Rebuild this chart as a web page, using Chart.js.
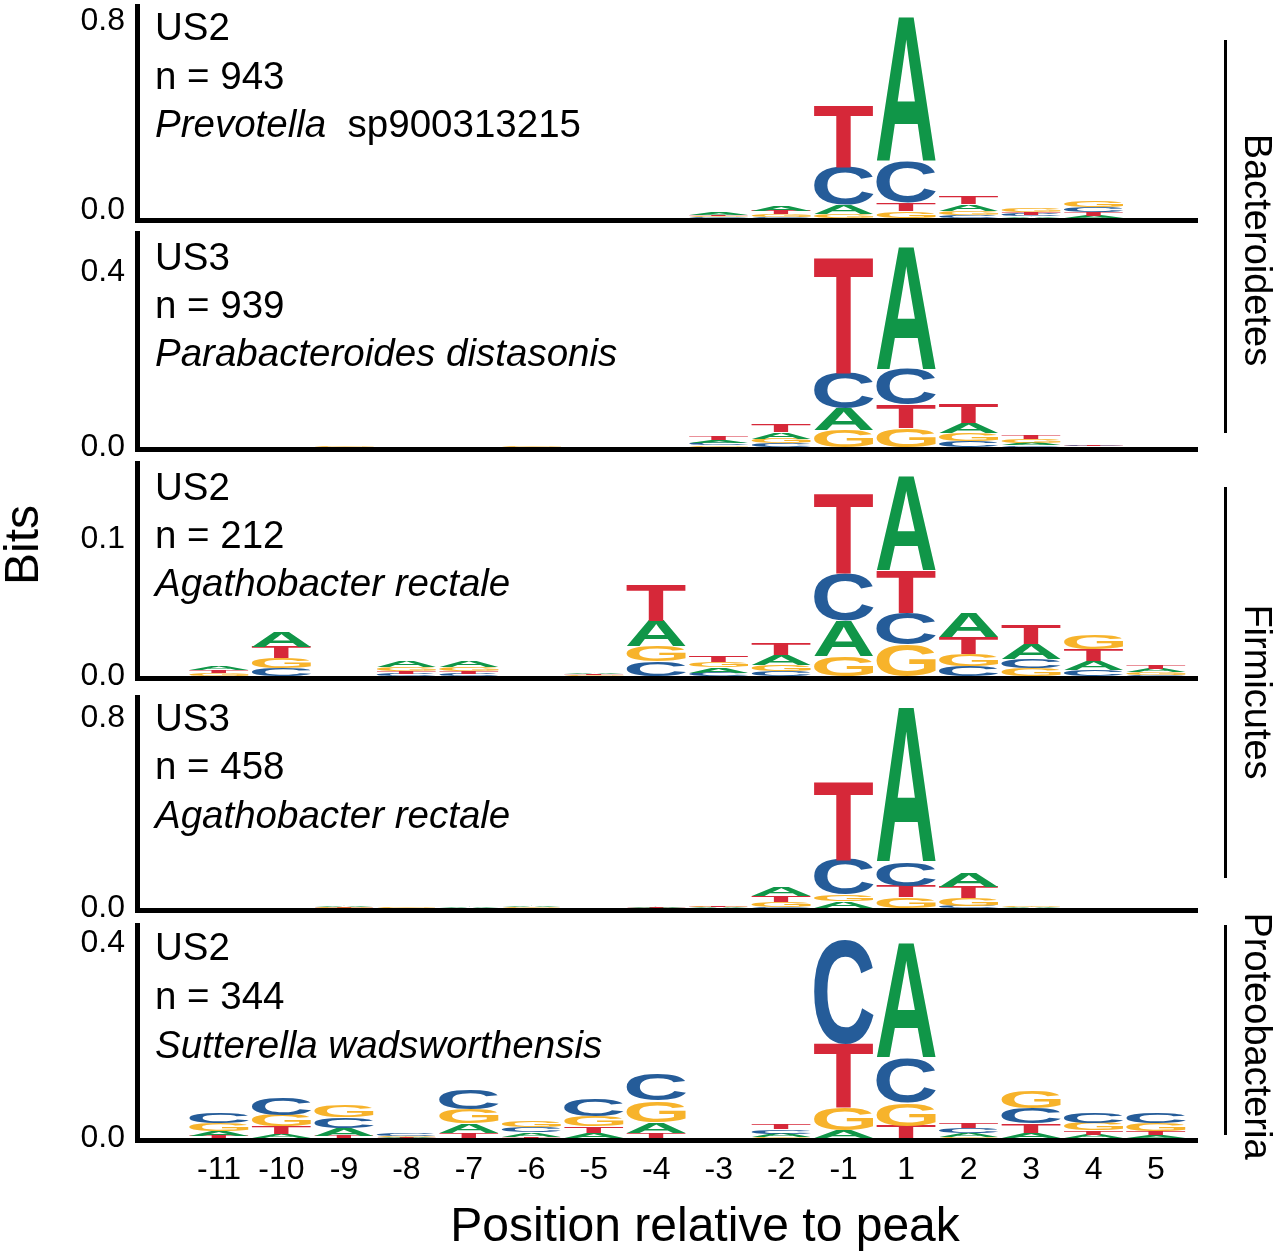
<!DOCTYPE html>
<html>
<head>
<meta charset="utf-8">
<title>Sequence logos around peaks</title>
<script src="https://cdn.jsdelivr.net/npm/chart.js@4.4.0/dist/chart.umd.min.js"></script>
<style>
  body { margin: 0; background: #fff; }
  #page { position: relative; width: 1280px; height: 1257px; overflow: hidden;
          font-family: "Liberation Sans", Arial, sans-serif; color: #000; }
  canvas { position: absolute; left: 0; }
  .note { position: absolute; left: 155px; font-size: 38.5px; line-height: 38.5px; white-space: pre; }
  .rot { position: absolute; white-space: nowrap; line-height: 1; }
  .bar { position: absolute; left: 1224px; width: 3px; background: #000; }
</style>
</head>
<body>
<div id="page">
  <canvas id="p1" width="1280" height="244"></canvas>
  <canvas id="p2" width="1280" height="248"></canvas>
  <canvas id="p3" width="1280" height="247"></canvas>
  <canvas id="p4" width="1280" height="249"></canvas>
  <canvas id="p5" width="1280" height="342"></canvas>

  <div class="note" style="top:8px">US2</div>
  <div class="note" style="top:57px">n = 943</div>
  <div class="note" style="top:105px"><i>Prevotella</i>  sp900313215</div>

  <div class="note" style="top:238px">US3</div>
  <div class="note" style="top:286px">n = 939</div>
  <div class="note" style="top:334px"><i>Parabacteroides distasonis</i></div>

  <div class="note" style="top:468px">US2</div>
  <div class="note" style="top:516px">n = 212</div>
  <div class="note" style="top:564px"><i>Agathobacter rectale</i></div>

  <div class="note" style="top:699px">US3</div>
  <div class="note" style="top:747px">n = 458</div>
  <div class="note" style="top:796px"><i>Agathobacter rectale</i></div>

  <div class="note" style="top:928px">US2</div>
  <div class="note" style="top:977px">n = 344</div>
  <div class="note" style="top:1026px"><i>Sutterella wadsworthensis</i></div>

  <div class="bar" style="top:40px;height:393px"></div>
  <div class="bar" style="top:487px;height:391px"></div>
  <div class="bar" style="top:925px;height:210px"></div>
  <div class="rot" style="left:1258px;top:250px;font-size:38px;transform:translate(-50%,-50%) rotate(90deg)">Bacteroidetes</div>
  <div class="rot" style="left:1258px;top:692px;font-size:38px;transform:translate(-50%,-50%) rotate(90deg)">Firmicutes</div>
  <div class="rot" style="left:1258px;top:1036px;font-size:38px;transform:translate(-50%,-50%) rotate(90deg)">Proteobacteria</div>

  <div class="rot" style="left:22px;top:545px;font-size:48px;transform:translate(-50%,-50%) rotate(-90deg)">Bits</div>
  <div class="rot" style="left:705px;top:1225px;font-size:48px;transform:translate(-50%,-50%)">Position relative to peak</div>
</div>

<script>
// positions relative to the peak, and the four bases
const positions = ['-11', '-10', '-9', '-8', '-7', '-6', '-5', '-4', '-3', '-2', '-1', '1', '2', '3', '4', '5'];
const bases = ['A', 'C', 'G', 'T'];
const baseColors = { A: '#109648', C: '#255C99', G: '#F7B32B', T: '#D62839' };

// information (bits) per base and position
// US2 - Prevotella sp900313215
const p1A = [0, 0, 0, 0, 0, 0, 0, 0, 0.012, 0.02, 0.037, 0.585, 0.028, 0.006, 0.01, 0];
const p1C = [0, 0, 0, 0, 0, 0, 0, 0, 0.002, 0.004, 0.155, 0.167, 0.012, 0.008, 0.02, 0];
const p1G = [0, 0, 0, 0, 0, 0, 0, 0, 0.005, 0.012, 0.016, 0.028, 0.016, 0.014, 0.028, 0];
const p1T = [0, 0, 0, 0, 0, 0, 0, 0, 0.007, 0.013, 0.25, 0.033, 0.032, 0.01, 0.014, 0];

// US3 - Parabacteroides distasonis
const p2A = [0, 0, 0, 0, 0, 0.001, 0, 0, 0.006, 0.015, 0.05, 0.281, 0.023, 0.006, 0.001, 0];
const p2C = [0, 0, 0, 0, 0, 0, 0, 0, 0.005, 0.008, 0.08, 0.08, 0.014, 0.004, 0.0012, 0];
const p2G = [0, 0, 0.002, 0, 0, 0.002, 0, 0, 0.004, 0.011, 0.039, 0.043, 0.018, 0.008, 0.0011, 0];
const p2T = [0, 0, 0.001, 0, 0, 0, 0, 0, 0.008, 0.016, 0.265, 0.053, 0.045, 0.009, 0.002, 0];

// US2 - Agathobacter rectale
const p3A = [0.0025, 0.0109, 0, 0.0044, 0.0042, 0, 0.001, 0.019, 0.0038, 0.0077, 0.0255, 0.069, 0.0182, 0.011, 0.0066, 0.0024];
const p3C = [0, 0.0056, 0, 0.0018, 0.0017, 0, 0, 0.0105, 0.0025, 0.0035, 0.035, 0.0233, 0.0073, 0.0066, 0.0044, 0.001];
const p3G = [0.002, 0.0073, 0, 0.0029, 0.0028, 0, 0.0006, 0.011, 0.004, 0.0045, 0.0146, 0.0228, 0.0088, 0.006, 0.0102, 0.002];
const p3T = [0.0022, 0.0085, 0, 0.002, 0.002, 0, 0.0008, 0.026, 0.0043, 0.0083, 0.0585, 0.0307, 0.0124, 0.0144, 0.0088, 0.0026];

// US3 - Agathobacter rectale
const p4A = [0, 0, 0.005, 0, 0.002, 0.005, 0, 0.003, 0.002, 0.037, 0.027, 0.649, 0.059, 0.002, 0, 0];
const p4C = [0, 0, 0, 0.002, 0, 0, 0, 0, 0.001, 0.005, 0.147, 0.1, 0.008, 0, 0, 0];
const p4G = [0, 0, 0.003, 0.004, 0, 0.003, 0, 0, 0.003, 0.022, 0.03, 0.045, 0.034, 0.004, 0, 0];
const p4T = [0, 0, 0.002, 0, 0, 0, 0, 0.002, 0.005, 0.024, 0.331, 0.048, 0.046, 0.001, 0, 0];

// US2 - Sutterella wadsworthensis
const p5A = [0.011, 0.009, 0.016, 0.0015, 0.019, 0.009, 0.011, 0.022, 0, 0.007, 0.016, 0.236, 0.008, 0.011, 0.007, 0.006];
const p5C = [0.021, 0.035, 0.021, 0.005, 0.039, 0.01, 0.035, 0.053, 0, 0.009, 0.214, 0.092, 0.01, 0.031, 0.022, 0.021];
const p5G = [0.015, 0.023, 0.023, 0.002, 0.029, 0.014, 0.021, 0.044, 0, 0.002, 0.045, 0.047, 0.002, 0.035, 0.015, 0.015];
const p5T = [0.004, 0.015, 0.005, 0.001, 0.011, 0.003, 0.013, 0.011, 0, 0.011, 0.131, 0.025, 0.011, 0.019, 0.009, 0.009];

// y tick values shown on each panel
const p1Ticks = [0, 0.8];
const p2Ticks = [0, 0.4];
const p3Ticks = [0, 0.1];
const p4Ticks = [0, 0.8];
const p5Ticks = [0, 0.4];

const FONT = '"Liberation Sans", Arial, sans-serif';
const LETTER_FONT = 'bold 200px ' + FONT;

// stack letters smallest at the bottom: one dataset per stack layer
function buildLayers(cols) {
  const layers = [0, 1, 2, 3].map(() => ({ data: [], letters: [] }));
  positions.forEach((p, i) => {
    const stack = bases.map((b) => ({ b: b, h: cols[b][i] })).sort((u, v) => u.h - v.h);
    stack.forEach((s, k) => {
      layers[k].data.push({ x: i, y: s.h });
      layers[k].letters.push(s.b);
    });
  });
  return layers.map((l, k) => ({
    label: 'layer ' + k,
    data: l.data,
    letters: l.letters,
    backgroundColor: 'rgba(0,0,0,0)',
    borderWidth: 0,
    barPercentage: 0.95,
    categoryPercentage: 1
  }));
}

// draws each bar as its letter stretched to the bar box
const glyphs = {};
function glyphBox(ctx, letter) {
  if (!glyphs[letter]) {
    ctx.save();
    ctx.font = LETTER_FONT;
    const m = ctx.measureText(letter);
    ctx.restore();
    glyphs[letter] = { l: m.actualBoundingBoxLeft, r: m.actualBoundingBoxRight,
                       a: m.actualBoundingBoxAscent, d: m.actualBoundingBoxDescent };
  }
  return glyphs[letter];
}

const logoLetters = {
  id: 'logoLetters',
  afterDatasetsDraw(chart) {
    const ctx = chart.ctx;
    chart.data.datasets.forEach((ds, di) => {
      chart.getDatasetMeta(di).data.forEach((bar, i) => {
        const p = bar.getProps(['x', 'y', 'base', 'width'], true);
        const h = p.base - p.y;
        if (h < 0.2) return;
        const letter = ds.letters[i];
        const g = glyphBox(ctx, letter);
        ctx.save();
        ctx.font = LETTER_FONT;
        ctx.textAlign = 'left';
        ctx.textBaseline = 'alphabetic';
        ctx.fillStyle = baseColors[letter];
        ctx.translate(p.x - p.width / 2, p.y);
        ctx.scale(p.width / (g.l + g.r), h / (g.a + g.d));
        ctx.fillText(letter, g.l, g.a);
        ctx.restore();
      });
    });
  }
};

// zeroLift: the "0.0" label of the top panel sits a little above its line
const panels = [
  { id: 'p1', cols: { A: p1A, C: p1C, G: p1G, T: p1T }, ticks: p1Ticks, min: -0.0102, max: 0.861, top: 0, padTop: 6, padBottom: 23.5, zeroLift: 8 },
  { id: 'p2', cols: { A: p2A, C: p2C, G: p2G, T: p2T }, ticks: p2Ticks, min: -0.0057, max: 0.489, top: 226, padTop: 7, padBottom: 24.5 },
  { id: 'p3', cols: { A: p3A, C: p3C, G: p3G, T: p3T }, ticks: p3Ticks, min: -0.0018, max: 0.1555, top: 456, padTop: 7, padBottom: 24.5 },
  { id: 'p4', cols: { A: p4A, C: p4C, G: p4G, T: p4T }, ticks: p4Ticks, min: -0.0105, max: 0.888, top: 686, padTop: 11, padBottom: 24.5 },
  { id: 'p5', cols: { A: p5A, C: p5C, G: p5G, T: p5T }, ticks: p5Ticks, min: -0.0051, max: 0.437, top: 915, padTop: 10, padBottom: 0, showX: true }
];

panels.forEach((pn) => {
  const canvas = document.getElementById(pn.id);
  canvas.style.top = pn.top + 'px';
  const lifted = (v) => pn.zeroLift && v === 0;
  new Chart(canvas, {
    type: 'bar',
    data: { datasets: buildLayers(pn.cols) },
    options: {
      responsive: false,
      animation: false,
      layout: { padding: { top: pn.padTop, bottom: pn.padBottom, left: 0, right: 83 } },
      plugins: { legend: { display: false }, tooltip: { enabled: false } },
      scales: {
        x: {
          type: 'linear',
          stacked: true,
          offset: false,
          min: -1.313,
          max: 15.656,
          z: 1,
          grid: { display: false, drawTicks: false },
          border: { display: true, color: '#000', width: 5 },
          ticks: {
            display: !!pn.showX,
            color: '#000',
            font: { family: FONT, size: 32 },
            padding: 10,
            maxRotation: 0,
            autoSkip: false,
            callback: (v) => positions[v]
          },
          afterBuildTicks: (s) => { s.ticks = positions.map((p, i) => ({ value: i })); },
          afterFit: (s) => {
            s.height = pn.showX ? 116.5 : 0;
            s.paddingLeft = 0;
            s.paddingRight = 0;
          }
        },
        y: {
          stacked: true,
          min: pn.min,
          max: pn.max,
          grid: { display: false, drawTicks: false },
          border: { display: true, color: '#000', width: 5 },
          ticks: {
            color: '#000',
            font: (c) => ({
              family: FONT,
              size: 32,
              lineHeight: c.tick && lifted(c.tick.value) ? (2 * pn.zeroLift) + 'px' : 1.2
            }),
            padding: 12,
            callback: (v) => lifted(v) ? ['0.0', ''] : v.toFixed(1)
          },
          afterBuildTicks: (s) => { s.ticks = pn.ticks.map((v) => ({ value: v })); },
          afterFit: (s) => {
            s.width = 137;
            s.paddingTop = 0;
            s.paddingBottom = 0;
          }
        }
      }
    },
    plugins: [logoLetters]
  });
});
</script>
</body>
</html>
